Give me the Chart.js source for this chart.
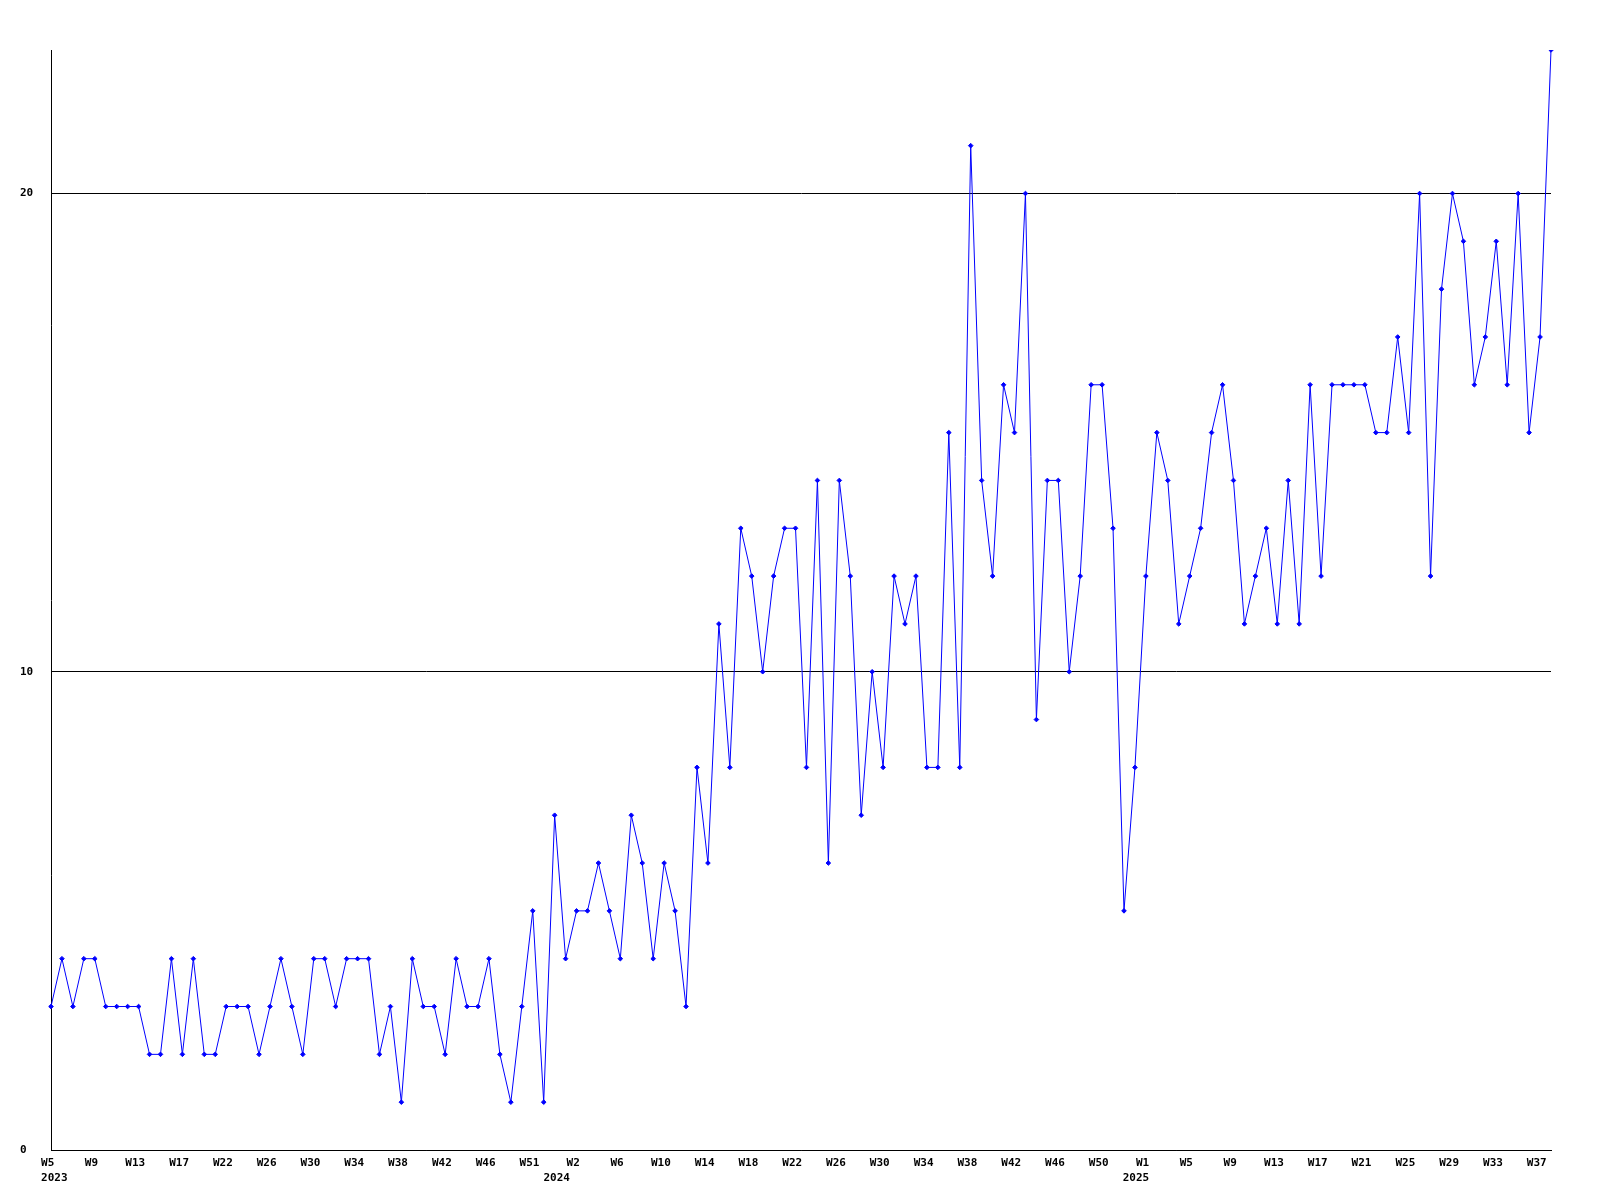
<!DOCTYPE html>
<html>
<head>
<meta charset="utf-8">
<script src="https://cdn.jsdelivr.net/npm/chart.js@4/dist/chart.umd.min.js"></script>
<style>
  html, body { margin: 0; padding: 0; background: #fff; }
  canvas { display: block; }
</style>
</head>
<body>
<canvas id="grafico" width="1600" height="1200"></canvas>
<script>
// valores semanales, 2023 W5 .. 2025 W38
const valores = [
  3,4,3,4,4,3,3,3,3,2,2,4,2,4,2,2,3,3,3,2,3,4,3,2,4,4,3,4,4,4,2,3,1,4,3,3,2,4,3,3,4,2,1,3,5,1,
  7,4,5,5,6,5,4,7,6,4,6,5,3,
  8,6,11,8,13,12,10,12,13,13,8,14,6,14,12,7,10,8,12,11,12,8,8,15,8,21,14,12,16,15,20,9,14,14,
  10,12,16,16,13,5,8,12,15,14,11,12,13,15,16,14,11,12,13,11,14,11,16,12,16,16,16,16,15,15,
  17,15,20,12,18,20,19,16,17,19,16,20,15,17,23
]

// una etiqueta cada 4 semanas
const etiquetasSemana = ['W5','W9','W13','W17','W22','W26','W30','W34','W38','W42','W46','W51',
  'W2','W6','W10','W14','W18','W22','W26','W30','W34','W38','W42','W46','W50',
  'W1','W5','W9','W13','W17','W21','W25','W29','W33','W37']
const posAnios = [0, 12, 25]
const anios = ['2023', '2024', '2025']

const yTicks = [0, 10, 20]

// corrimiento del texto del año (en espacios, negativo = a la izquierda)
const corrAnio = [1, -6, -3]
const pad = (txt, n) => n >= 0 ? ' '.repeat(n) + txt : txt + ' '.repeat(-n)

const categorias = valores.map((v, i) => {
  if (i % 4 !== 0) return ''
  const k = i / 4
  const a = posAnios.indexOf(k)
  const sem = etiquetasSemana[k] + ' '
  if (a >= 0) return [sem, pad(anios[a], corrAnio[a])]
  return sem
})

const fuente = { family: 'DejaVu Sans Mono', size: 11, weight: 'bold', lineHeight: 1.35 }

new Chart(document.getElementById('grafico'), {
  type: 'line',
  data: {
    labels: categorias,
    datasets: [{
      data: valores,
      borderColor: '#0000ff',
      backgroundColor: '#0000ff',
      borderWidth: 1,
      tension: 0,
      pointStyle: 'rectRot',
      pointRadius: 2.3,
      pointBorderWidth: 1,
      pointBorderColor: '#0000ff',
      pointBackgroundColor: '#0000ff'
    }]
  },
  options: {
    responsive: false,
    animation: false,
    layout: { padding: { left: 20, top: 50, right: 49, bottom: 0 } },
    plugins: { legend: { display: false }, tooltip: { enabled: false } },
    scales: {
      x: {
        offset: false,
        grid: { display: false, drawTicks: false },
        border: { display: true, color: '#000', width: 1 },
        ticks: {
          autoSkip: false,
          maxRotation: 0,
          minRotation: 0,
          padding: 6,
          color: '#000',
          font: fuente
        },
        afterFit: s => { s.height = 50 }
      },
      y: {
        min: 0,
        max: 23,
        grid: { color: '#000', lineWidth: 1, drawTicks: false },
        border: { display: true, color: '#000', width: 1 },
        afterBuildTicks: s => { s.ticks = yTicks.map(v => ({ value: v })) },
        ticks: {
          crossAlign: 'far',
          padding: 0,
          color: '#000',
          font: fuente
        },
        afterFit: s => { s.width = 31 }
      }
    }
  }
})
</script>
</body>
</html>
